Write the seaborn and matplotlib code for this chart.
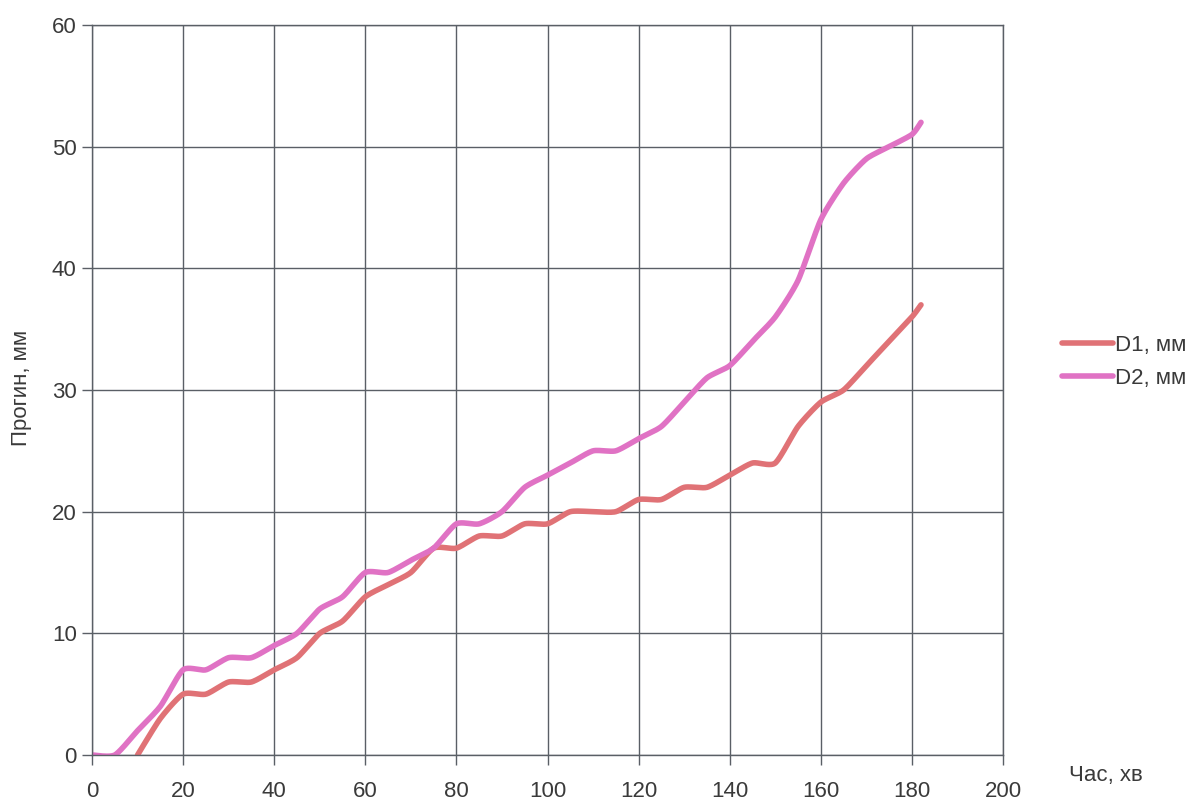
import numpy as np
import pandas as pd
import matplotlib
matplotlib.use("Agg")
import matplotlib.pyplot as plt
import seaborn as sns
from matplotlib.lines import Line2D

# ---- data ----
t_d1 = [10, 15, 20, 25, 30, 35, 40, 45, 50, 55, 60, 65, 70, 75, 80, 85, 90, 95,
        100, 105, 110, 115, 120, 125, 130, 135, 140, 145, 150, 155, 160, 165,
        170, 175, 180, 182]
d1 = [0, 3, 5, 5, 6, 6, 7, 8, 10, 11, 13, 14, 15, 17, 17, 18, 18, 19,
      19, 20, 20, 20, 21, 21, 22, 22, 23, 24, 24, 27, 29, 30,
      32, 34, 36, 37]
t_d2 = [0, 5, 10, 15, 20, 25, 30, 35, 40, 45, 50, 55, 60, 65, 70, 75, 80, 85, 90, 95,
        100, 105, 110, 115, 120, 125, 130, 135, 140, 145, 150, 155, 160, 165,
        170, 175, 180, 182]
d2 = [0, 0, 2, 4, 7, 7, 8, 8, 9, 10, 12, 13, 15, 15, 16, 17, 19, 19, 20, 22,
      23, 24, 25, 25, 26, 27, 29, 31, 32, 34, 36, 39, 44, 47,
      49, 50, 51, 52]
series_names = ["D1, мм", "D2, мм"]
x_ticks = list(range(0, 201, 20))
y_ticks = list(range(0, 61, 10))


def smooth(x, y, n=20, k=0.33):
    """Cardinal-spline rendering of the series (spreadsheet-style smoothed line)."""
    x = np.asarray(x, float)
    y = np.asarray(y, float)
    px = np.concatenate([[x[0]], x, [x[-1]]])
    py = np.concatenate([[y[0]], y, [y[-1]]])
    xs, ys = [], []
    last = len(px) - 3
    for i in range(1, len(px) - 2):
        p0 = np.array([px[i - 1], py[i - 1]])
        p1 = np.array([px[i], py[i]])
        p2 = np.array([px[i + 1], py[i + 1]])
        p3 = np.array([px[i + 2], py[i + 2]])
        m1 = k * (p2 - p0)
        m2 = k * (p3 - p1)
        s = np.linspace(0, 1, n, endpoint=(i == last))
        h00 = 2 * s**3 - 3 * s**2 + 1
        h10 = s**3 - 2 * s**2 + s
        h01 = -2 * s**3 + 3 * s**2
        h11 = s**3 - s**2
        pts = (np.outer(h00, p1) + np.outer(h10, m1) + np.outer(h01, p2) + np.outer(h11, m2))
        xs.extend(pts[:, 0])
        ys.extend(pts[:, 1])
    return np.array(xs), np.array(ys)


sx1, sy1 = smooth(t_d1, d1)
sx2, sy2 = smooth(t_d2, d2)
df = pd.concat([
    pd.DataFrame({"t": sx1, "v": sy1, "s": series_names[0]}),
    pd.DataFrame({"t": sx2, "v": sy2, "s": series_names[1]}),
], ignore_index=True)

sns.set_theme(style="white")
plt.rcParams["font.family"] = ["Liberation Sans", "DejaVu Sans"]

fig = plt.figure(figsize=(12, 8.01), dpi=100)
ax = fig.add_axes([92 / 1200, 1 - 755 / 801, (1003 - 92) / 1200, (755 - 25) / 801])

palette = {series_names[0]: "#E07276", series_names[1]: "#E072C4"}
sns.lineplot(data=df, x="t", y="v", hue="s", estimator=None, sort=False,
             palette=palette, linewidth=4.0, ax=ax, legend=False)
for ln in ax.lines:
    ln.set_solid_capstyle("round")
    ln.set_solid_joinstyle("round")

ax.set_xlim(0, 200)
ax.set_ylim(0, 60)
ax.set_xticks(x_ticks)
ax.set_yticks(y_ticks)
ax.grid(True, color="#5a5f66", linewidth=1.0)
ax.set_axisbelow(True)
for sp in ax.spines.values():
    sp.set_visible(True)
    sp.set_color("#5a5f66")
    sp.set_linewidth(1.0)
ax.tick_params(axis="both", which="major", direction="out", length=7, width=1,
               color="#5a5f66", labelsize=16, labelcolor="#3a3a3a")
ax.tick_params(axis="x", bottom=True, pad=12)
ax.tick_params(axis="y", left=True, pad=4)
ax.set_xlabel("")
ax.set_ylabel("")
fig.text(21 / 1200, 1 - 388 / 801, "Прогин, мм", fontsize=16, color="#3a3a3a",
         rotation=90, ha="center", va="center")

handles = [Line2D([0], [0], color=palette[n], lw=4.0, solid_capstyle="round") for n in series_names]
fig.legend(handles, series_names, loc="center left", bbox_to_anchor=(1062 / 1200, 1 - 362 / 801),
           frameon=False, fontsize=16, handlelength=2.3, handletextpad=0.1, labelspacing=0.55,
           borderpad=0, borderaxespad=0, labelcolor="#3a3a3a")

fig.text(1106 / 1200, 1 - 776 / 801, "Час, хв", fontsize=16, color="#3a3a3a",
         ha="center", va="center")

fig.savefig("out.png", dpi=100)
